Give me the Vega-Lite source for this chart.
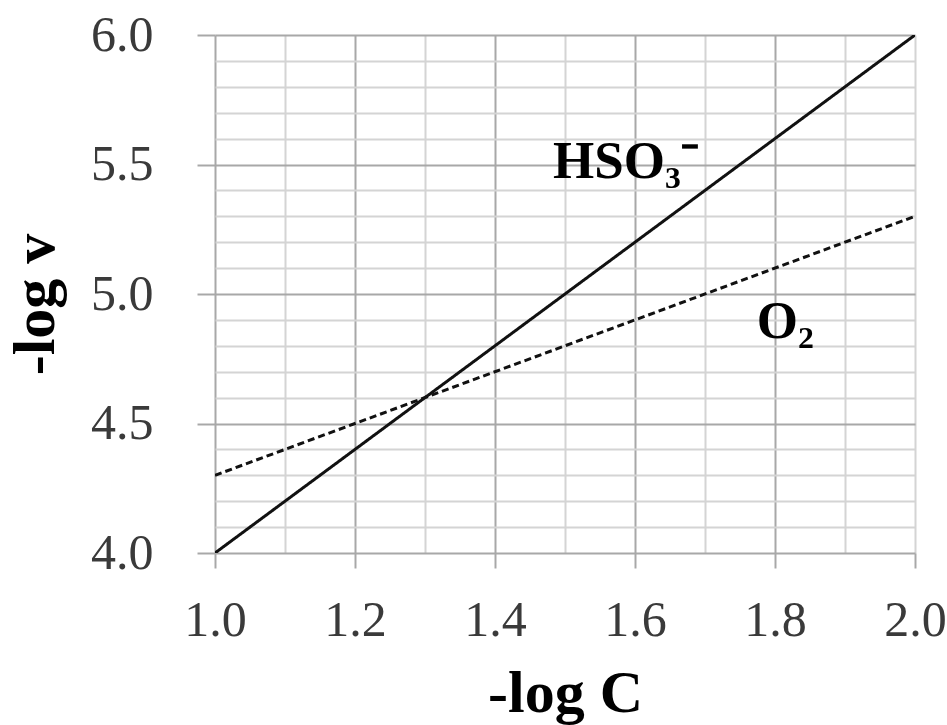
{
  "$schema": "https://vega.github.io/schema/vega-lite/v6.json",
  "width": 700,
  "height": 518,
  "autosize": "none",
  "padding": {"left": 215, "top": 35, "right": 32, "bottom": 172},
  "background": "white",
  "config": {"view": {"stroke": null}, "font": "Liberation Serif"},
  "datasets": {
    "lines": [
      {"x": 1.0, "y": 4.0, "series": "HSO3"},
      {"x": 2.0, "y": 6.0, "series": "HSO3"},
      {"x": 1.0, "y": 4.3, "series": "O2"},
      {"x": 2.0, "y": 5.3, "series": "O2"}
    ],
    "labels": [
      {"x": 1.483, "y": 5.448, "label": "HSO₃⁻"},
      {"x": 1.774, "y": 4.83, "label": "O₂"}
    ]
  },
  "layer": [
    {
      "data": {"name": "lines"},
      "mark": {"type": "line", "color": "#111111", "strokeWidth": 3, "clip": true},
      "encoding": {
        "x": {
          "field": "x", "type": "quantitative",
          "scale": {"domain": [1, 2], "nice": false, "zero": false},
          "axis": {
            "values": [1.0, 1.1, 1.2, 1.3, 1.4, 1.5, 1.6, 1.7, 1.8, 1.9, 2.0],
            "tickCount": 50,
            "format": ".1f",
            "labelExpr": "round(datum.value*10) % 2 == 0 ? datum.label : ''",
            "domain": false,
            "grid": true,
            "gridWidth": 2,
            "gridColor": {"condition": {"test": "round(datum.value*10) % 2 == 0 && round(datum.value*10) != 20", "value": "#a8a8a8"}, "value": "#d4d4d4"},
            "ticks": true,
            "tickSize": 15,
            "tickWidth": 2,
            "tickColor": "#a8a8a8",
            "tickOpacity": {"condition": {"test": "round(datum.value*10) % 2 == 0", "value": 1}, "value": 0},
            "labelFont": "Liberation Serif",
            "labelFontSize": 50,
            "labelColor": "#3a3a3a",
            "labelPadding": 27,
            "labelFlush": false,
            "labelOverlap": false,
            "title": "-log C",
            "titleFont": "Liberation Serif",
            "titleFontSize": 60,
            "titleFontWeight": "bold",
            "titleColor": "#000000",
            "titleBaseline": "alphabetic",
            "titleY": 158
          }
        },
        "y": {
          "field": "y", "type": "quantitative",
          "scale": {"domain": [4, 6], "nice": false, "zero": false},
          "axis": {
            "values": [4.0, 4.1, 4.2, 4.3, 4.4, 4.5, 4.6, 4.7, 4.8, 4.9, 5.0, 5.1, 5.2, 5.3, 5.4, 5.5, 5.6, 5.7, 5.8, 5.9, 6.0],
            "tickCount": 50,
            "format": ".1f",
            "labelExpr": "round(datum.value*10) % 5 == 0 ? datum.label : ''",
            "domain": false,
            "grid": true,
            "gridWidth": 2,
            "gridColor": {"condition": {"test": "round(datum.value*10) % 5 == 0", "value": "#a8a8a8"}, "value": "#d4d4d4"},
            "ticks": true,
            "tickSize": 18,
            "tickWidth": 2,
            "tickColor": "#a8a8a8",
            "tickOpacity": {"condition": {"test": "round(datum.value*10) % 5 == 0", "value": 1}, "value": 0},
            "labelFont": "Liberation Serif",
            "labelFontSize": 50,
            "labelColor": "#3a3a3a",
            "labelPadding": 44,
            "labelFlush": false,
            "labelOverlap": false,
            "title": "-log v",
            "titleFont": "Liberation Serif",
            "titleFontSize": 60,
            "titleFontWeight": "bold",
            "titleColor": "#000000",
            "titleBaseline": "alphabetic",
            "titleAngle": -90,
            "titleX": -162,
            "titleY": 269
          }
        },
        "detail": {"field": "series", "type": "nominal"},
        "strokeDash": {
          "field": "series", "type": "nominal",
          "scale": {"domain": ["HSO3", "O2"], "range": [[1, 0], [7, 4]]},
          "legend": null
        }
      }
    },
    {
      "data": {"name": "labels"},
      "mark": {"type": "text", "align": "left", "baseline": "alphabetic", "font": "Liberation Serif", "fontSize": 53, "fontWeight": "bold", "color": "#000000"},
      "encoding": {
        "x": {"field": "x", "type": "quantitative"},
        "y": {"field": "y", "type": "quantitative"},
        "text": {"field": "label", "type": "nominal"}
      }
    }
  ]
}
